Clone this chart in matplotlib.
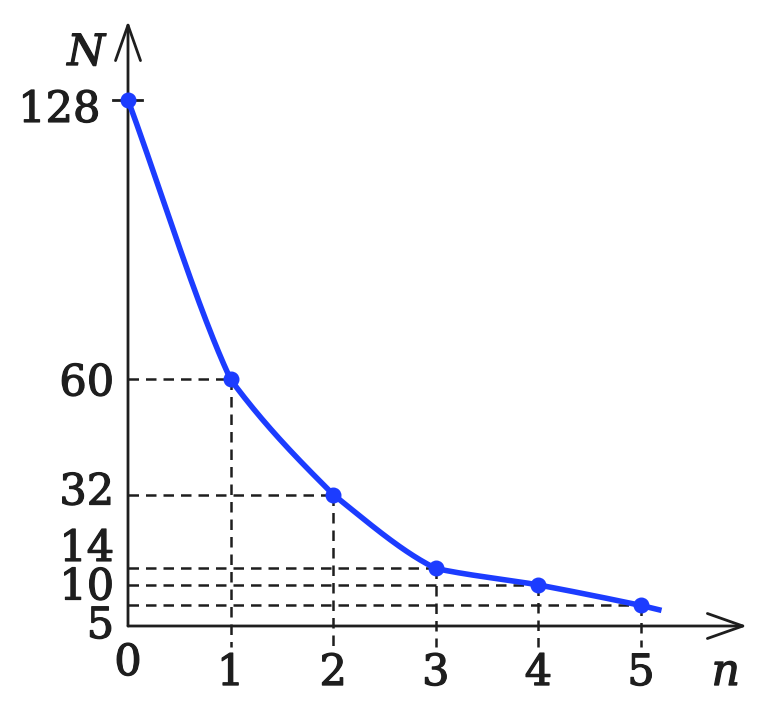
import numpy as np
import matplotlib
matplotlib.use('Agg')
import matplotlib.pyplot as plt
import matplotlib.patheffects as pe

# points
n_vals = [0, 1, 2, 3, 4, 5]
N_vals = [128, 60, 32, 14, 10, 5]
# the drawn curve runs on a little past the last point
n_end = 5.2
N_end = 3.8

blue = '#1c3cff'
ink = '#1e1e1e'
plt.rcParams['font.family'] = 'DejaVu Serif'
# a thin outline makes the digits look closer to the heavy schoolbook face
heavy = [pe.withStroke(linewidth=0.9, foreground=ink)]


def smooth_curve(x, y, steps=60):
    # hermite pieces, tangents halfway between pchip slope and segment slope
    x = np.asarray(x, float)
    y = np.asarray(y, float)
    h = np.diff(x)
    s = np.diff(y) / h
    d = np.zeros_like(x)
    for k in range(1, len(x) - 1):
        if s[k - 1] * s[k] > 0:
            w1 = 2 * h[k] + h[k - 1]
            w2 = h[k] + 2 * h[k - 1]
            d[k] = (w1 + w2) / (w1 / s[k - 1] + w2 / s[k])
    t = np.linspace(0, 1, steps)
    h00 = 2 * t**3 - 3 * t**2 + 1
    h10 = t**3 - 2 * t**2 + t
    h01 = -2 * t**3 + 3 * t**2
    h11 = t**3 - t**2
    xs, ys = [], []
    for k in range(len(h)):
        m0 = s[k] if k == 0 else (d[k] + s[k]) / 2
        m1 = s[k] if k == len(h) - 1 else (d[k + 1] + s[k]) / 2
        xs.append(x[k] + t * h[k])
        ys.append(h00 * y[k] + h10 * h[k] * m0 + h01 * y[k + 1] + h11 * h[k] * m1)
    return np.concatenate(xs), np.concatenate(ys)


fig = plt.figure(figsize=(7.72, 7.09), dpi=100)
ax = fig.add_axes([0, 0, 1, 1])

# pixel layout of the original: origin at (128, 626), 102.6 px per n, 526 px per 128
px_n = 102.6
px_N = 526 / 128
ax.set_xlim(-128 / px_n, (772 - 128) / px_n)
ax.set_ylim(-(709 - 626) / px_N, 626 / px_N)
ax.axis('off')

x_tip = (747 - 128) / px_n
y_tip = (626 - 21) / px_N
arrow = dict(arrowstyle='->,head_length=1.7,head_width=0.6', lw=2.0, color=ink,
             mutation_scale=15, shrinkA=0, shrinkB=0)
ax.annotate('', xy=(x_tip, 0), xytext=(0, 0), arrowprops=arrow)
ax.annotate('', xy=(0, y_tip), xytext=(0, 0), arrowprops=arrow)

# short tick through the axis at the first value
ax.plot([-0.15, 0.14], [N_vals[0], N_vals[0]], color=ink, lw=2.0)

# dashed guides to each later point
dash_bottom = -21 / px_N
for k, v in zip(n_vals[1:], N_vals[1:]):
    ax.plot([0, k], [v, v], color=ink, lw=1.8, ls=(0, (4.2, 2.8)))
    ax.plot([k, k], [v, dash_bottom], color=ink, lw=1.8, ls=(0, (4.2, 2.8)))

cx, cy = smooth_curve(n_vals + [n_end], N_vals + [N_end])
ax.plot(cx, cy, color=blue, lw=4.0, zorder=4, solid_capstyle='butt')
ax.plot(n_vals, N_vals, 'o', ms=10.5, color=blue, zorder=5)

# y labels, nudged apart like the original (offsets in points)
y_offsets = {128: (-20, -15.8), 60: (-10, -11.5), 32: (-10, -7.2),
             14: (-10, 5.4), 10: (-10, -10.5), 5: (-10, -23.5)}
for v in N_vals:
    ax.annotate(str(v), xy=(0, v), xytext=y_offsets[v], textcoords='offset points',
                ha='right', va='baseline', fontsize=31, color=ink, path_effects=heavy)

for k in n_vals:
    dy = -35.3 if k == 0 else -42.5
    ax.annotate(str(k), xy=(k, 0), xytext=(0, dy), textcoords='offset points',
                ha='center', va='baseline', fontsize=31, color=ink, path_effects=heavy)

ax.annotate('N', xy=(0, y_tip), xytext=(-16.6, -31.7), textcoords='offset points',
            ha='right', va='baseline', fontsize=31, style='italic', color=ink,
            path_effects=heavy)
ax.annotate('n', xy=(x_tip, 0), xytext=(-5, -42.5), textcoords='offset points',
            ha='right', va='baseline', fontsize=32, style='italic', color=ink,
            path_effects=heavy)

fig.savefig('out.png', dpi=100)
